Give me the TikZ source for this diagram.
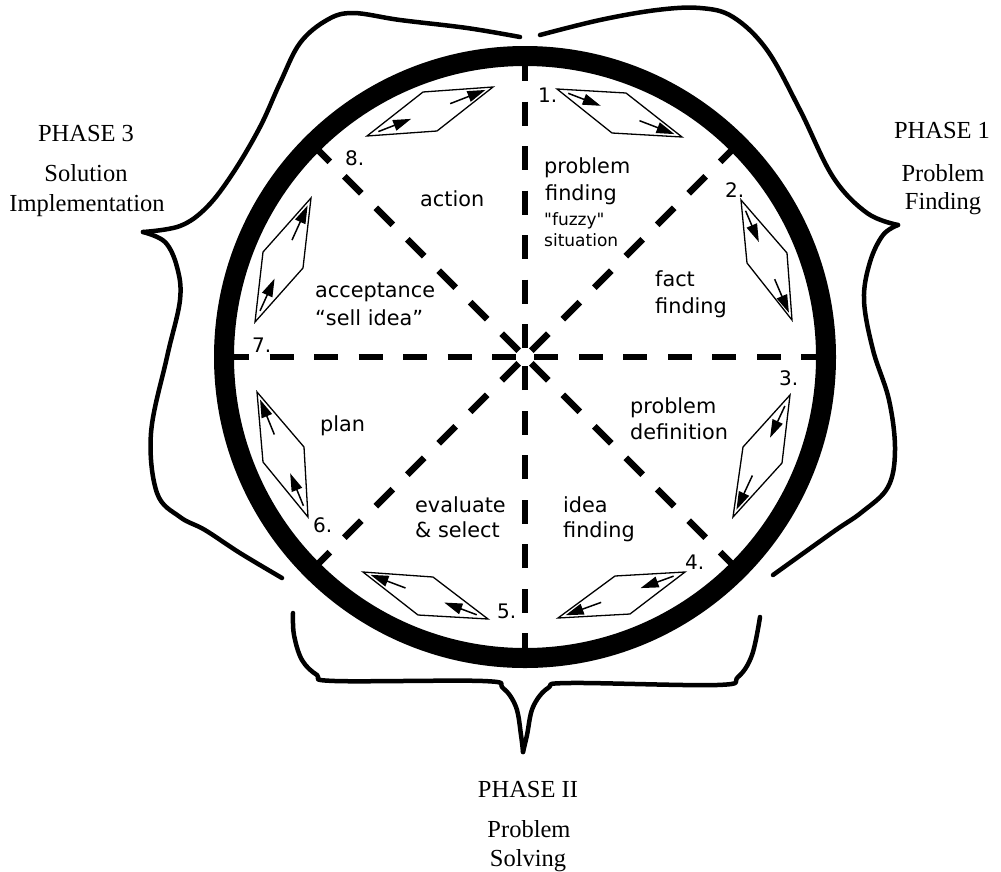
\documentclass[tikz,border=0pt]{standalone}
\usepackage{fontspec}
\setmainfont{Liberation Serif}
\newfontfamily\handfont{DejaVu Sans}
\usetikzlibrary{arrows.meta,calc}

% one parallelogram with two flow arrows along its long diagonal (#1 -> #3)
\newcommand\flowpar[4]{%
  \draw[rhomb] #1 -- #2 -- #3 -- #4 -- cycle;
  \draw[flow] ($#1!0.09!#3$) -- ($#1!0.35!#3$);
  \draw[flow] ($#1!0.66!#3$) -- ($#1!0.94!#3$);
}

\begin{document}
\begin{tikzpicture}[x=1pt,y=-1pt,
  ring/.style={line width=20pt},
  spoke/.style={line width=6.5pt, dash pattern=on 24pt off 20.5pt},
  brace/.style={line width=4.5pt, line cap=round, line join=round},
  rhomb/.style={line width=1.3pt, line join=miter},
  flow/.style={line width=1.5pt, -{Triangle[length=18pt,width=11pt]}},
  lab/.style={font=\handfont\fontsize{20.8}{24}\selectfont, anchor=base west, inner sep=0pt},
  small/.style={font=\handfont\fontsize{17}{20}\selectfont, anchor=base west, inner sep=0pt},
  num/.style={font=\handfont\fontsize{20}{24}\selectfont, anchor=base west, inner sep=0pt},
  phase/.style={font=\fontsize{24.5}{28}\selectfont, anchor=base, inner sep=0pt}]

\useasboundingbox (0,0) rectangle (1001,871);
\fill[white] (0,0) rectangle (1001,871);

% spokes and the wheel
\coordinate (c) at (525,357);
\foreach \a in {0,45,...,315}
  \draw[spoke] ($(c)+(\a:300)$) -- ($(c)+(\a:9)$);
\draw[ring] (c) circle[radius=301pt];

% the eight step parallelograms
\flowpar{(557,89)}{(626,93)}{(682,137)}{(612,133)}
\flowpar{(741,200)}{(787,253)}{(792,320)}{(747,263)}
\flowpar{(790,395)}{(782,463)}{(733,517)}{(743,447)}
\flowpar{(685,572)}{(630,614)}{(558,618)}{(615,576)}
\flowpar{(488,619)}{(418,615)}{(363,572)}{(433,577)}
\flowpar{(308,517)}{(263,462)}{(257,392)}{(304,447)}
\flowpar{(255,322)}{(263,252)}{(311,198)}{(303,268)}
\flowpar{(367,136)}{(437,131)}{(493,87)}{(423,92)}

% step numbers
\node[num] (n1) at (538,102) {1.};
\node[num] (n2) at (725,197) {2.};
\node[num] (n3) at (779,385) {3.};
\node[num] (n4) at (685,569) {4.};
\node[num] (n5) at (497,618) {5.};
\node[num] (n6) at (313,532) {6.};
\node[num] (n7) at (252,352) {7.};
\node[num] (n8) at (345,165) {8.};

% sector texts
\node[lab] (s1a) at (544,173) {problem};
\node[lab] (s1b) at (545,200) {finding};
\node[small] (s1c) at (544,225) {"fuzzy"};
\node[small] (s1d) at (544,246) {situation};
\node[lab] (s2a) at (655,286) {fact};
\node[lab] (s2b) at (655,313) {finding};
\node[lab] (s3a) at (630,413) {problem};
\node[lab] (s3b) at (630,439) {definition};
\node[lab] (s4a) at (563,512) {idea};
\node[lab] (s4b) at (563,537) {finding};
\node[lab] (s5a) at (415,512) {evaluate};
\node[lab] (s5b) at (415,537) {\& select};
\node[lab] (s6) at (320,431) {plan};
\node[lab] (s7a) at (315,297) {acceptance};
\node[lab] (s7b) at (315,325) {“sell idea”};
\node[lab] (s8) at (420,206) {action};

% phase braces
\draw[brace] plot[smooth, tension=0.6] coordinates {(520,37) (467,28) (400,20) (353,13) (327,20) (300,43) (280,83) (260,127) (233,173) (207,207) (180,226) (143,232)};
\draw[brace] plot[smooth, tension=0.6] coordinates {(143,232) (165,242) (177,267) (180,300) (167,357) (151,433) (157,493) (180,517) (205,530) (240,553) (282,578)};
\draw[brace] plot[smooth, tension=0.6] coordinates {(540,35) (600,20) (657,10) (700,8) (733,17) (767,50) (800,110) (833,177) (867,213) (898,225)};
\draw[brace] plot[smooth, tension=0.6] coordinates {(898,225) (883,235) (870,262) (864,300) (873,350) (889,400) (895,450) (888,487) (862,512) (833,532) (773,575)};
\draw[brace] plot[smooth, tension=0.6] coordinates {(293,613) (294,635) (302,660) (317,675) (335,681) (483,681) (503,688) (516,707) (521,735) (523,752)};
\draw[brace] plot[smooth, tension=0.6] coordinates {(523,752) (527,735) (533,707) (548,688) (570,683) (717,685) (738,677) (752,655) (760,617)};

% phase captions
\node[phase] (p3a) at (86,141) {PHASE 3};
\node[phase] (p3b) at (86,181) {Solution};
\node[phase] (p3c) at (87,211) {Implementation};
\node[phase] (p1a) at (942,138) {PHASE 1};
\node[phase] (p1b) at (943,181) {Problem};
\node[phase] (p1c) at (943,209) {Finding};
\node[phase] (p2a) at (528,797) {PHASE II};
\node[phase] (p2b) at (529,837) {Problem};
\node[phase] (p2c) at (528,866) {Solving};
\end{tikzpicture}
\end{document}
